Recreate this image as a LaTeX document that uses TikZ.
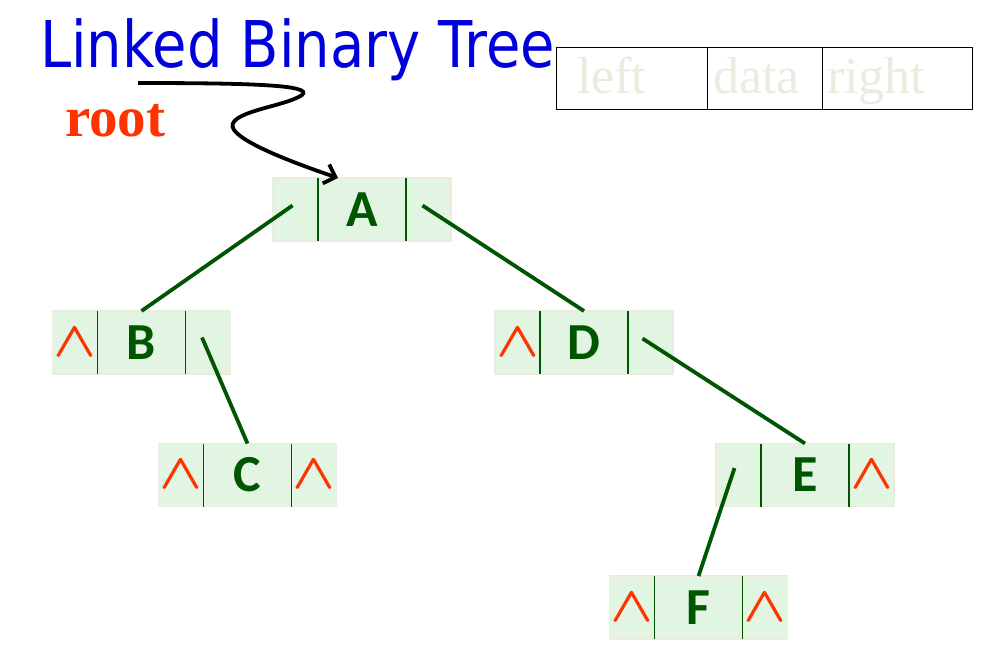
\documentclass[tikz,border=0pt]{standalone}
\usepackage{fontspec}
\usepackage{graphicx}
\usetikzlibrary{positioning,arrows.meta}
\newfontfamily\titlefont{DejaVu Sans}
\newfontfamily\cellfont{Carlito}
\newfontfamily\keyfont{Liberation Serif}[BoldFont={Liberation Serif Bold}]

\definecolor{cellfill}{RGB}{226,245,226}
\definecolor{cellline}{RGB}{237,234,224}
\definecolor{treegreen}{RGB}{0,85,0}
\definecolor{nullred}{RGB}{255,51,0}
\definecolor{titleblue}{RGB}{0,0,220}

\newcommand\nul{\makebox[0pt]{\scalebox{5.6}[5.0]{\boldmath$\wedge$}}}

\tikzset{
  datacell/.style={draw=cellline, line width=1.5pt, fill=cellfill, outer sep=0pt, inner sep=0pt,
    minimum width=88pt, minimum height=63pt, text=treegreen,
    font=\cellfont\bfseries\fontsize{52}{52}\selectfont},
  ptrcell/.style={datacell, minimum width=45pt, text=nullred, font=\normalsize},
  divider/.style={treegreen, line width=1.6pt},
  link/.style={treegreen, line width=3.8pt},
  keycell/.style={draw=black, line width=1pt, outer sep=0pt, minimum height=62pt, align=left,
    text height=38pt, text depth=8pt, text=cellline, font=\keyfont\fontsize{52}{52}\selectfont},
  pointer/.style={black, line width=3.8pt, -{Straight Barb[length=10pt,width=20pt]}},
}

\begin{document}
\begin{tikzpicture}[x=1pt,y=-1pt]
  \useasboundingbox (0,0) rectangle (993,658);

  % key of the cells
  \node[keycell, inner xsep=21pt, text width=109pt] (key_l) at (631.5,79) {left};
  \node[keycell, inner xsep=6pt, text width=103pt, right=0pt of key_l] (key_d) {data};
  \node[keycell, inner xsep=5pt, text width=140pt, right=0pt of key_d] (key_r) {right};

  \node[anchor=base west, inner sep=0pt, text=titleblue, font=\titlefont\fontsize{56}{56}\selectfont]
    (title) at (40,68) {\scalebox{1}[1.15]{Linked Binary Tree}};
  \node[anchor=base west, inner sep=0pt, text=nullred, font=\keyfont\bfseries\fontsize{57}{57}\selectfont]
    (root) at (65,137) {root};

  % tree nodes
  \node[datacell] (A) at (362,209.5) {A};
  \node[ptrcell, left=0pt of A] (A_l) {};
  \node[ptrcell, right=0pt of A] (A_r) {};

  \node[datacell] (B) at (141.5,342.5) {B};
  \node[ptrcell, left=0pt of B] (B_l) {\nul};
  \node[ptrcell, right=0pt of B] (B_r) {};

  \node[datacell] (C) at (247.5,475) {C};
  \node[ptrcell, left=0pt of C] (C_l) {\nul};
  \node[ptrcell, right=0pt of C] (C_r) {\nul};

  \node[datacell] (D) at (584,342.5) {D};
  \node[ptrcell, left=0pt of D] (D_l) {\nul};
  \node[ptrcell, right=0pt of D] (D_r) {};

  \node[datacell] (E) at (805,475) {E};
  \node[ptrcell, left=0pt of E] (E_l) {};
  \node[ptrcell, right=0pt of E] (E_r) {\nul};

  \node[datacell] (F) at (698.5,607.5) {F};
  \node[ptrcell, left=0pt of F] (F_l) {\nul};
  \node[ptrcell, right=0pt of F] (F_r) {\nul};

  \foreach \n in {A,B,C,D,E,F} {
    \draw[divider] (\n.north west) -- (\n.south west);
    \draw[divider] (\n.north east) -- (\n.south east);
  }

  \path[link]
    ([shift={(-3,-4)}]A_l.center) edge (B.north)
    ([shift={(-6,-4)}]A_r.center) edge (D.north)
    ([shift={(-6,-5)}]B_r.center) edge (C.north)
    ([shift={(-8,-4)}]D_r.center) edge (E.north)
    ([shift={(-4,-7)}]E_l.center) edge (F.north);

  \coordinate (root_tail) at (138,83);
  \draw[pointer] (root_tail) .. controls (250,83) and (314,85) .. (302,95)
    .. controls (285,107) and (222,112) .. (234,130)
    .. controls (245,145) and (300,165) .. ([xshift=-24pt]A.north);
\end{tikzpicture}
\end{document}
